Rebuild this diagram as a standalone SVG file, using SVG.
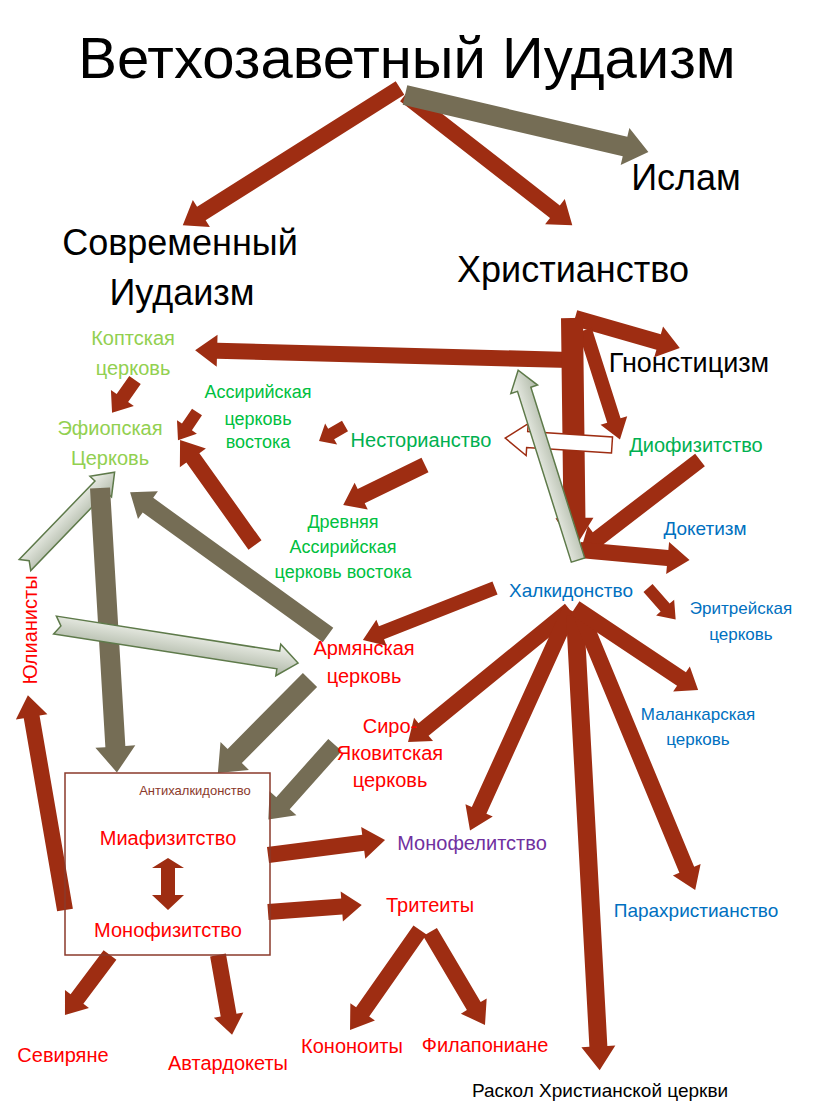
<svg xmlns="http://www.w3.org/2000/svg" width="819" height="1114" viewBox="0 0 819 1114">
<style>
text{font-family:"Liberation Sans",Arial,sans-serif;text-anchor:middle}
.r{fill:#9E2D12}
.o{fill:#756D55}
.l{fill:url(#lg);stroke:#5E7A4A;stroke-width:1.5}
.h{fill:#fff;stroke:#9E2D12;stroke-width:1.5}
.big{font-size:36px;fill:#000}
.lg{fill:#92D050;font-size:20px}
.g{fill:#00C040;font-size:18px}
.bl{fill:#0070C0;font-size:19px}
.rd{fill:#FF0000;font-size:20px}
</style>
<defs>
<linearGradient id="lg" x1="0" y1="0" x2="0" y2="1"><stop offset="0" stop-color="#F2F4EE"/><stop offset="1" stop-color="#AEB7A6"/></linearGradient>
</defs>
<rect width="819" height="1114" fill="#fff"/>
<g id="connectors">
<path class="r" transform="translate(400,88) rotate(147.7)" d="M0,-8H235V-16L257,0L235,16V8H0Z"/>
<path class="r" transform="translate(405,95) rotate(37.9)" d="M0,-8H190V-16L212,0L190,16V8H0Z"/>
<path class="o" transform="translate(405,95) rotate(13.2)" d="M0,-10H226V-19L250,0L226,19V10H0Z"/>
<path class="r" transform="translate(570,360) rotate(181.5)" d="M0,-8H353V-16L375,0L353,16V8H0Z"/>
<path class="r" transform="translate(575,318) rotate(16)" d="M0,-8H87V-16L109,0L87,16V8H0Z"/>
<path class="r" transform="translate(585,330) rotate(72.3)" d="M0,-7H95V-14L115,0L95,14V7H0Z"/>
<path class="r" transform="translate(572,318) rotate(89.3)" d="M0,-11H200V-19L230,0L200,19V11H0Z"/>
<path class="r" transform="translate(700,460) rotate(142.5)" d="M0,-8H129V-16L151,0L129,16V8H0Z"/>
<path class="r" transform="translate(580,550) rotate(5.2)" d="M0,-8H88V-16L110,0L88,16V8H0Z"/>
<path class="h" transform="translate(612,445) rotate(183.7)" d="M0,-8H85V-16L107,0L85,16V8H0Z"/>
<path class="l" transform="translate(578,560) rotate(-107.5)" d="M0,-7H179V-14L199,0L179,14V7H0Z"/>
<path class="r" transform="translate(345,426) rotate(150)" d="M0,-6H16V-12L30,0L16,12V6H0Z"/>
<path class="r" transform="translate(425,465) rotate(154)" d="M0,-8H71V-15L91,0L71,15V8H0Z"/>
<path class="r" transform="translate(135,380) rotate(125)" d="M0,-7H22V-14L40,0L22,14V7H0Z"/>
<path class="r" transform="translate(197,412) rotate(124)" d="M0,-6H18V-12L34,0L18,12V6H0Z"/>
<path class="r" transform="translate(255,545) rotate(-125.5)" d="M0,-8H107V-16L129,0L107,16V8H0Z"/>
<path class="l" transform="translate(25,565) rotate(-46)" d="M0,-8L6,0L0,8H109V15L129,0L109,-15V-8Z"/>
<path class="o" transform="translate(100,488) rotate(86.6)" d="M0,-10H259V-20L285,0L259,20V10H0Z"/>
<path class="o" transform="translate(328,635) rotate(215.8)" d="M0,-9H222V-17L244,0L222,17V9H0Z"/>
<path class="l" transform="translate(55,625) rotate(8.9)" d="M0,-9L6,0L0,9H226V16L246,0L226,-16V-9Z"/>
<path class="o" transform="translate(310,680) rotate(134.7)" d="M0,-10H107V-20L131,0L107,20V10H0Z"/>
<path class="o" transform="translate(335,745) rotate(131.8)" d="M0,-9H78V-18L100,0L78,18V9H0Z"/>
<path class="r" transform="translate(65,910) rotate(-99.8)" d="M0,-8H196V-16L218,0L196,16V8H0Z"/>
<path class="r" transform="translate(495,588) rotate(158.5)" d="M0,-7H122V-14L142,0L122,14V7H0Z"/>
<path class="r" transform="translate(648,588) rotate(48.8)" d="M0,-6H26V-12L42,0L26,12V6H0Z"/>
<path class="r" transform="translate(570,610) rotate(140.8)" d="M0,-8H189V-15L209,0L189,15V8H0Z"/>
<path class="r" transform="translate(570,610) rotate(114.4)" d="M0,-8H220V-15L242,0L220,15V8H0Z"/>
<path class="r" transform="translate(575,615) rotate(86.9)" d="M0,-9H432V-17L456,0L432,17V9H0Z"/>
<path class="r" transform="translate(580,612) rotate(67.5)" d="M0,-8H279V-15L301,0L279,15V8H0Z"/>
<path class="r" transform="translate(575,608) rotate(33.7)" d="M0,-8H128V-15L148,0L128,15V8H0Z"/>
<path class="r" transform="translate(268,855) rotate(-7.3)" d="M0,-8H96V-16L118,0L96,16V8H0Z"/>
<path class="r" transform="translate(268,912) rotate(-4.3)" d="M0,-8H74V-15L94,0L74,15V8H0Z"/>
<path class="r" d="M161,875H175V868L184,868L168,858L152,868H161ZM161,875V895H152L168,910L184,895H175V875Z"/>
<path class="r" transform="translate(110,955) rotate(126.9)" d="M0,-8H55V-15L75,0L55,15V8H0Z"/>
<path class="r" transform="translate(218,955) rotate(80)" d="M0,-8H61V-15L81,0L61,15V8H0Z"/>
<path class="r" transform="translate(420,930) rotate(125)" d="M0,-8H100V-15L122,0L100,15V8H0Z"/>
<path class="r" transform="translate(430,932) rotate(59.4)" d="M0,-8H86V-15L108,0L86,15V8H0Z"/>
</g>
<g id="title"><text x="407" y="78" font-size="58" fill="#000">Ветхозаветный Иудаизм</text></g>
<g id="islam"><text class="big" x="686" y="190">Ислам</text></g>
<g id="judaism"><text class="big" x="180" y="255">Современный</text><text class="big" x="182" y="305">Иудаизм</text></g>
<g id="christ"><text class="big" x="573" y="282">Христианство</text></g>
<g id="gnost"><text x="689" y="372" font-size="27" fill="#000">Гнонстицизм</text></g>
<g id="coptic"><text class="lg" x="133" y="345">Коптская</text><text class="lg" x="133" y="375">церковь</text></g>
<g id="ethiop"><text class="lg" x="110" y="435">Эфиопская</text><text class="lg" x="110" y="465">Церковь</text></g>
<g id="assyr"><text class="g" x="258" y="398">Ассирийская</text><text class="g" x="258" y="425">церковь</text><text class="g" x="258" y="448">востока</text></g>
<g id="nest"><text x="421" y="447" font-size="20" fill="#00B050">Несторианство</text></g>
<g id="dio"><text x="696" y="452" font-size="20" fill="#00B050">Диофизитство</text></g>
<g id="ancient"><text class="g" x="343" y="528">Древняя</text><text class="g" x="343" y="553">Ассирийская</text><text class="g" x="343" y="578">церковь востока</text></g>
<g id="doket"><text class="bl" x="705" y="535">Докетизм</text></g>
<g id="chalc"><text class="bl" x="571" y="597">Халкидонство</text></g>
<g id="eritr"><text x="741" y="614" font-size="17" fill="#0070C0">Эритрейская</text><text x="741" y="640" font-size="17" fill="#0070C0">церковь</text></g>
<g id="armen"><text class="rd" x="364" y="655">Армянская</text><text class="rd" x="364" y="683">церковь</text></g>
<g id="siro"><text class="rd" x="390" y="733">Сиро-</text><text class="rd" x="390" y="760">Яковитская</text><text class="rd" x="390" y="787">церковь</text></g>
<g id="malank"><text x="698" y="720" font-size="17" fill="#0070C0">Маланкарская</text><text x="698" y="745" font-size="17" fill="#0070C0">церковь</text></g>
<g id="monofel"><text x="472" y="850" font-size="20" fill="#7030A0">Монофелитство</text></g>
<g id="trit"><text class="rd" x="430" y="912">Тритеиты</text></g>
<g id="parachr"><text class="bl" x="696" y="917">Парахристианство</text></g>
<g id="anti">
<rect x="65" y="773" width="205" height="182" fill="none" stroke="#8B3A2B" stroke-width="1.5"/>
<text x="195" y="795" font-size="13" fill="#8B3A2B">Антихалкидонство</text>
<text class="rd" x="168" y="845">Миафизитство</text>
<text class="rd" x="168" y="937">Монофизитство</text>
</g>
<g id="julian"><text class="rd" transform="translate(37,630) rotate(-90)">Юлианисты</text></g>
<g id="sever"><text class="rd" x="63" y="1062">Севиряне</text></g>
<g id="avtard"><text class="rd" x="228" y="1070">Автардокеты</text></g>
<g id="konon"><text class="rd" x="352" y="1053">Кононоиты</text></g>
<g id="filap"><text class="rd" x="485" y="1052">Филапониане</text></g>
<g id="raskol"><text x="600" y="1097" font-size="19" fill="#000">Раскол Христианской церкви</text></g>
</svg>
